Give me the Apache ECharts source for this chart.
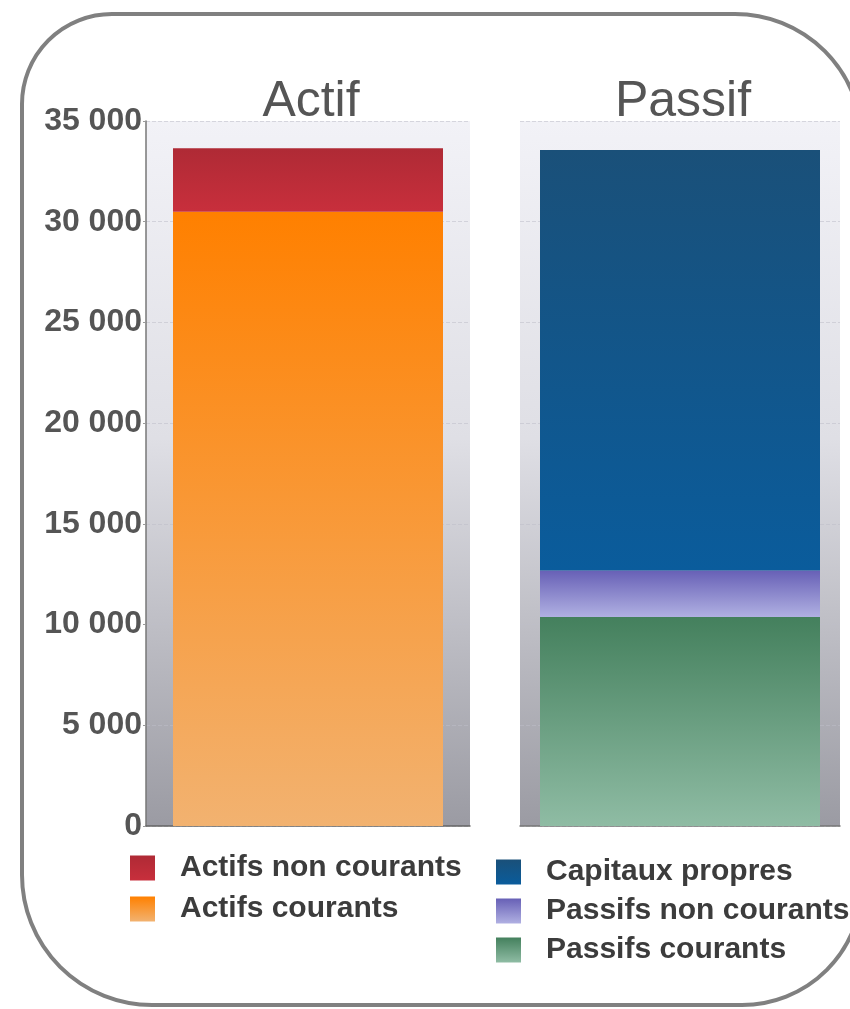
<!DOCTYPE html>
<html>
<head>
<meta charset="utf-8">
<script src="https://cdn.jsdelivr.net/npm/echarts@6/dist/echarts.min.js"></script>
<style>
html,body{margin:0;padding:0;background:#fff;}
#c{width:850px;height:1009px;}
</style>
</head>
<body>
<div id="c"></div>
<script>
// ---- data ----
const panelTitles = ['Actif', 'Passif'];
const catActif = ['Actif'];
const catPassif = ['Passif'];
const actifsCourants = [30500];
const actifsNonCourants = [3150];
const passifsCourants = [10380];
const passifsNonCourants = [2310];
const capitauxPropres = [20870];
const yTicks = [0, 5000, 10000, 15000, 20000, 25000, 30000, 35000];

const G = echarts.graphic.LinearGradient;
function vg(top, bottom) { return new G(0, 0, 0, 1, [{offset: 0, color: top}, {offset: 1, color: bottom}]); }
const bgGrad = new G(0, 0, 0, 1, [
  {offset: 0, color: '#f2f2f7'},
  {offset: 0.45, color: '#dfdfe5'},
  {offset: 1, color: '#9b9ba3'}
]);
function fmt(v) { return String(v).replace(/\B(?=(\d{3})+(?!\d))/g, ' '); }
const FONT = 'Liberation Sans, Arial, Helvetica, sans-serif';

const chart = echarts.init(document.getElementById('c'), null, {renderer: 'canvas'});
const yBase = {
  type: 'value', min: yTicks[0], max: yTicks[yTicks.length - 1], interval: 5000,
  splitLine: {show: true, lineStyle: {color: 'rgba(190,190,200,0.55)', type: 'dashed', width: 1}}
};
const legendText = {fontSize: 30, fontWeight: 'bold', color: '#3c3c3c', fontFamily: FONT, padding: [0, 0, 0, 20], lineHeight: 25};
chart.setOption({
  animation: false,
  backgroundColor: '#fff',
  title: [
    {text: panelTitles[0], left: 306, top: 72, textAlign: 'center', textStyle: {fontSize: 50, fontWeight: 'normal', color: '#555', fontFamily: FONT}},
    {text: panelTitles[1], left: 678, top: 72, textAlign: 'center', textStyle: {fontSize: 50, fontWeight: 'normal', color: '#555', fontFamily: FONT}}
  ],
  graphic: [{
    type: 'rect', z: 100, silent: true,
    shape: {x: 22, y: 14, width: 840, height: 991, r: [90, 127, 120, 130]},
    style: {fill: 'none', stroke: '#808080', lineWidth: 4}
  }],
  legend: [
    {orient: 'vertical', left: 130, top: 853, padding: 0, itemWidth: 25, itemHeight: 25, itemGap: 11, icon: 'rect',
     data: ['Actifs non courants', 'Actifs courants'], textStyle: legendText, selectedMode: false},
    {orient: 'vertical', left: 496, top: 857, padding: 0, itemWidth: 25, itemHeight: 25, itemGap: 9, icon: 'rect',
     data: ['Capitaux propres', 'Passifs non courants', 'Passifs courants'], textStyle: legendText, selectedMode: false}
  ],
  grid: [
    {left: 146, top: 121, width: 324, height: 705, show: true, backgroundColor: bgGrad, borderWidth: 0},
    {left: 520, top: 121, width: 320, height: 705, show: true, backgroundColor: bgGrad, borderWidth: 0}
  ],
  xAxis: [
    {type: 'category', gridIndex: 0, data: catActif, axisLabel: {show: false}, axisTick: {show: false},
     axisLine: {show: true, lineStyle: {color: '#666', width: 1.5}}},
    {type: 'category', gridIndex: 1, data: catPassif, axisLabel: {show: false}, axisTick: {show: false},
     axisLine: {show: true, lineStyle: {color: '#777', width: 1.5}}}
  ],
  yAxis: [
    Object.assign({}, yBase, {gridIndex: 0,
      axisLine: {show: true, lineStyle: {color: '#777', width: 1.5}},
      axisTick: {show: true, length: 3, lineStyle: {color: '#999'}},
      axisLabel: {formatter: fmt, fontSize: 32, fontWeight: 'bold', color: '#555', fontFamily: FONT, margin: 4}}),
    Object.assign({}, yBase, {gridIndex: 1, axisLine: {show: false}, axisTick: {show: false}, axisLabel: {show: false}})
  ],
  series: [
    {name: 'Actifs courants', type: 'bar', stack: 'a', xAxisIndex: 0, yAxisIndex: 0, barWidth: 270, data: actifsCourants,
     itemStyle: {color: vg('#ff8000', '#f2b270')}},
    {name: 'Actifs non courants', type: 'bar', stack: 'a', xAxisIndex: 0, yAxisIndex: 0, barWidth: 270, data: actifsNonCourants,
     itemStyle: {color: vg('#af2a35', '#c82f3c')}},
    {name: 'Passifs courants', type: 'bar', stack: 'p', xAxisIndex: 1, yAxisIndex: 1, barWidth: 280, data: passifsCourants,
     itemStyle: {color: vg('#44805d', '#8fbca4')}},
    {name: 'Passifs non courants', type: 'bar', stack: 'p', xAxisIndex: 1, yAxisIndex: 1, barWidth: 280, data: passifsNonCourants,
     itemStyle: {color: vg('#6760b6', '#b0b0e2')}},
    {name: 'Capitaux propres', type: 'bar', stack: 'p', xAxisIndex: 1, yAxisIndex: 1, barWidth: 280, data: capitauxPropres,
     itemStyle: {color: vg('#1a5079', '#0a5c9c')}}
  ]
});
</script>
</body>
</html>
